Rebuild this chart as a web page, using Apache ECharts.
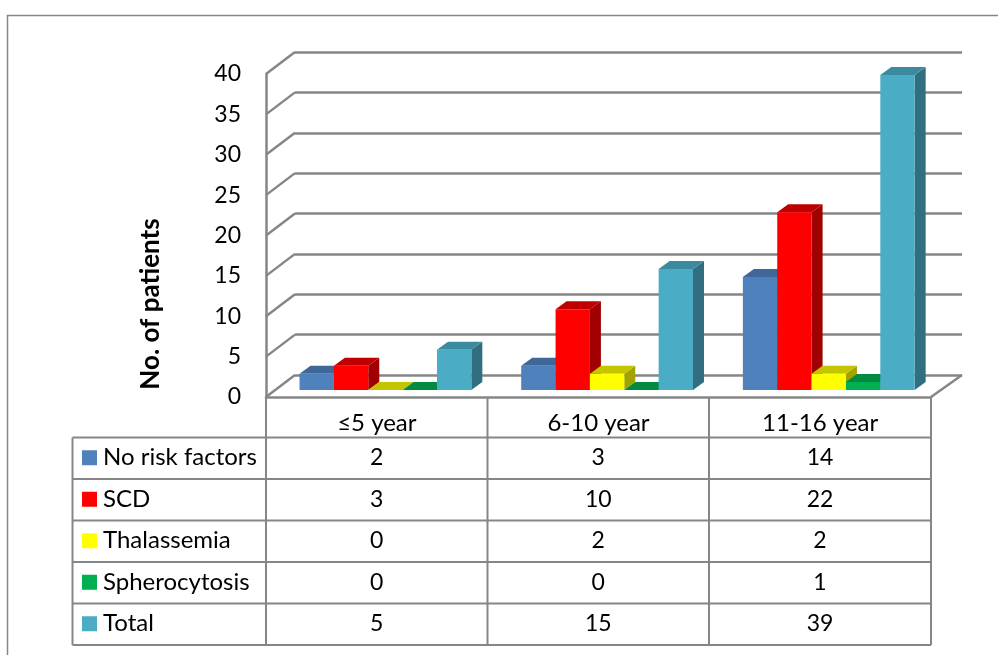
<!DOCTYPE html>
<html>
<head>
<meta charset="utf-8">
<style>
html, body { margin: 0; padding: 0; background: #fff; }
#chart { width: 998px; height: 655px; }
</style>
<script src="https://cdn.jsdelivr.net/npm/echarts@6/dist/echarts.min.js"></script>
</head>
<body>
<div id="chart"></div>
<script>
var categories = ['≤5 year', '6-10 year', '11-16 year'];
var seriesNames = ['No risk factors', 'SCD', 'Thalassemia', 'Spherocytosis', 'Total'];
var noRisk = [2, 3, 14];
var scd = [3, 10, 22];
var thalassemia = [0, 2, 2];
var spherocytosis = [0, 0, 1];
var total = [5, 15, 39];
var yTicks = [0, 5, 10, 15, 20, 25, 30, 35, 40];

var seriesValues = [noRisk, scd, thalassemia, spherocytosis, total];
var frontColors = ['#4F81BD', '#FF0000', '#FFFF00', '#00B050', '#4BACC6'];
var topColors = ['#3F6797', '#C00000', '#C4C400', '#008A42', '#3C8AA0'];
var sideColors = ['#345478', '#A00000', '#A3A300', '#006E35', '#316F80'];

var FONT = 'Lato';
var LINE = '#868686';
var tableLeft = 72.5, tableRight = 931;
var rowY = [437.5, 479, 520.5, 562, 603.5, 645];
var colX = [266, 487.5, 709, 931];

var chart = echarts.init(document.getElementById('chart'));

function barSeries(idx) {
	return {
		type: 'custom',
		name: seriesNames[idx],
		xAxisIndex: 0,
		yAxisIndex: 0,
		z: 5 + idx,
		clip: false,
		data: seriesValues[idx].map(function (v, i) { return [i, v]; }),
		renderItem: function (params, api) {
			var top = api.coord([api.value(0), api.value(1)]);
			var bottom = api.coord([api.value(0), 0]);
			var w = api.size([1, 0])[0] * 0.155;
			var x0 = top[0] + (idx - 2.5) * w + 8.6;
			var x1 = x0 + w;
			var yt = top[1] - 7;
			var yb = bottom[1] - 7;
			var dx = 11, dy = 8;
			return {
				type: 'group',
				children: [
					{ type: 'polygon', shape: { points: [[x1, yt], [x1 + dx, yt - dy], [x1 + dx, yb - dy], [x1, yb]] }, style: { fill: sideColors[idx] } },
					{ type: 'polygon', shape: { points: [[x0, yt], [x0 + dx, yt - dy], [x1 + dx, yt - dy], [x1, yt]] }, style: { fill: topColors[idx] } },
					{ type: 'rect', shape: { x: x0, y: yt, width: w, height: yb - yt }, style: { fill: frontColors[idx] } }
				]
			};
		}
	};
}

var wallSeries = {
	type: 'custom',
	xAxisIndex: 0,
	yAxisIndex: 0,
	z: 2,
	clip: false,
	data: yTicks.map(function (v) { return [0, v]; }),
	renderItem: function (params, api) {
		var p = api.coord([0, api.value(1)]);
		var x = p[0] - api.size([1, 0])[0] / 2;
		return {
			type: 'line',
			shape: { x1: x, y1: p[1], x2: x + 29, y2: p[1] - 22 },
			style: { stroke: LINE, lineWidth: 2.5 }
		};
	}
};

var graphics = [
	{ type: 'polyline', shape: { points: [[7.5, 655], [7.5, 15.5], [998, 15.5]] }, style: { stroke: LINE, lineWidth: 1.5, fill: 'none' } },
	{ type: 'line', shape: { x1: 931, y1: 397, x2: 962, y2: 375 }, style: { stroke: LINE, lineWidth: 2.5 } },
	{ type: 'text', x: 151, y: 304, rotation: Math.PI / 2, style: { text: 'No. of patients', font: 'bold 26px ' + FONT, fill: '#000', align: 'center', verticalAlign: 'middle' } }
];

// data table
rowY.forEach(function (y) {
	graphics.push({ type: 'line', shape: { x1: tableLeft, y1: y, x2: tableRight, y2: y }, style: { stroke: LINE, lineWidth: 2 } });
});
graphics.push({ type: 'line', shape: { x1: tableLeft, y1: rowY[0], x2: tableLeft, y2: rowY[5] }, style: { stroke: LINE, lineWidth: 2 } });
colX.forEach(function (x) {
	graphics.push({ type: 'line', shape: { x1: x, y1: 397, x2: x, y2: rowY[5] }, style: { stroke: LINE, lineWidth: 2 } });
});
seriesNames.forEach(function (name, r) {
	var cy = (rowY[r] + rowY[r + 1]) / 2 - 0.5;
	graphics.push({ type: 'rect', shape: { x: 82, y: cy - 7.5, width: 15, height: 15 }, style: { fill: frontColors[r] } });
	graphics.push({ type: 'text', x: 103, y: cy, style: { text: name, font: '24px ' + FONT, fill: '#000', align: 'left', verticalAlign: 'middle' } });
	seriesValues[r].forEach(function (v, c) {
		graphics.push({ type: 'text', x: (colX[c] + colX[c + 1]) / 2, y: cy, style: { text: String(v), font: '23px ' + FONT, fill: '#000', align: 'center', verticalAlign: 'middle' } });
	});
});

var option = {
	backgroundColor: '#fff',
	animation: false,
	grid: [
		{ left: 266, top: 74, width: 665, height: 323 },
		{ left: 295, top: 52, width: 667, height: 323 }
	],
	xAxis: [
		{
			type: 'category',
			gridIndex: 0,
			data: categories,
			axisLine: { show: true, lineStyle: { color: LINE, width: 2.5 } },
			axisTick: { show: false },
			axisLabel: { color: '#000', fontFamily: FONT, fontSize: 24, margin: 14 }
		},
		{
			type: 'category',
			gridIndex: 1,
			data: categories,
			axisLine: { show: false },
			axisTick: { show: false },
			axisLabel: { show: false }
		}
	],
	yAxis: [
		{
			type: 'value',
			gridIndex: 0,
			min: 0,
			max: 40,
			interval: 5,
			axisLine: { show: true, lineStyle: { color: LINE, width: 2.5 } },
			axisTick: { show: false },
			splitLine: { show: false },
			axisLabel: { color: '#000', fontFamily: FONT, fontSize: 23, margin: 25, padding: [5, 0, 0, 0] }
		},
		{
			type: 'value',
			gridIndex: 1,
			min: 0,
			max: 40,
			interval: 5,
			axisLine: { show: false },
			axisTick: { show: false },
			axisLabel: { show: false },
			splitLine: { show: true, lineStyle: { color: LINE, width: 2.5 } }
		}
	],
	series: [wallSeries].concat(seriesValues.map(function (v, i) { return barSeries(i); })),
	graphic: graphics
};
chart.setOption(option);
</script>
</body>
</html>
